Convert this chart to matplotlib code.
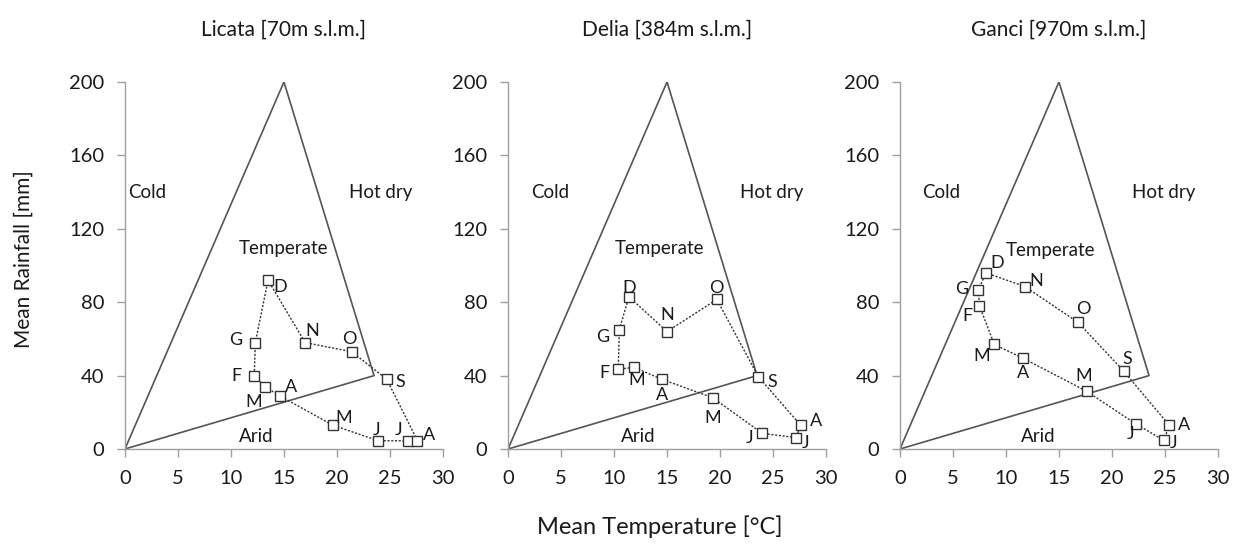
import matplotlib
matplotlib.use("Agg")
import matplotlib.pyplot as plt

plt.rcParams['font.family'] = ['Lato', 'DejaVu Sans']

months = ['G', 'F', 'M', 'A', 'M', 'J', 'J', 'A', 'S', 'O', 'N', 'D']

titles = ['Licata [70m s.l.m.]', 'Delia [384m s.l.m.]', 'Ganci [970m s.l.m.]']

licata_temp = [12.3, 12.2, 13.2, 14.6, 19.6, 23.9, 26.7, 27.6, 24.7, 21.4, 17.0, 13.5]
licata_rain = [58, 40, 34, 29, 13, 4.5, 4.5, 4.5, 38, 53, 58, 92]

delia_temp = [10.5, 10.4, 11.9, 14.5, 19.3, 24.0, 27.2, 27.6, 23.6, 19.7, 15.0, 11.4]
delia_rain = [65, 43.5, 44.5, 38, 28, 8.5, 6.2, 13, 39.5, 81.5, 64, 83]

ganci_temp = [7.4, 7.5, 8.9, 11.6, 17.6, 22.3, 24.9, 25.4, 21.1, 16.8, 11.8, 8.1]
ganci_rain = [86.5, 78, 57, 49.5, 31.5, 13.5, 4.7, 13, 42.5, 69, 88.5, 96]

# climate triangle vertices (temperature, rainfall)
tri_temp = [0, 15, 23.5, 0]
tri_rain = [0, 200, 40, 0]

zone_names = ['Cold', 'Hot dry', 'Temperate', 'Arid']

label_offsets = [
    [(-14, 2), (-13, 0), (-8, -11), (8, 6), (8, 5), (-1, 8), (-7, 8), (8, 4), (10, -2), (-2, 9), (5, 8), (9, -5)],
    [(-12, -5), (-10, -3), (2, -9), (0, -11), (0, -15), (-9, -3), (7, -4), (11, 3), (10, -4), (0, 8), (0, 12), (0, 6)],
    [(-12, 1), (-9, -7), (-9, -8), (0, -11), (-2, 11), (-4, -7), (7, -2), (11, 0), (3, 9), (4, 10), (8, 4), (8, 7)],
]
zone_pos = [
    [(0.3, 140, 'left'), (21.1, 140, 'left'), (15.0, 109, 'center'), (12.4, 7, 'center')],
    [(2.2, 140, 'left'), (21.9, 140, 'left'), (14.3, 109, 'center'), (12.3, 7, 'center')],
    [(2.1, 140, 'left'), (21.9, 140, 'left'), (14.2, 108, 'center'), (13.0, 7, 'center')],
]

temps = [licata_temp, delia_temp, ganci_temp]
rains = [licata_rain, delia_rain, ganci_rain]

txt = '#1a1a1a'
fig = plt.figure(figsize=(12.47, 5.44), dpi=100)
lefts = [0.1002, 0.4074, 0.7217]
for i in range(3):
    ax = fig.add_axes([lefts[i], 0.1746, 0.2550, 0.6747])
    ax.plot(tri_temp, tri_rain, color='#555555', lw=1.2, zorder=1)
    t = temps[i] + [temps[i][0]]
    r = rains[i] + [rains[i][0]]
    ax.plot(t, r, color='#333333', lw=1.0, ls=(0, (1.5, 1.2)), zorder=2)
    ax.plot(temps[i], rains[i], ls='none', marker='s', ms=7, mfc='white',
            mec='#333333', mew=1.0, zorder=3)
    for j, m in enumerate(months):
        dx, dy = label_offsets[i][j]
        ax.annotate(m, (temps[i][j], rains[i][j]), xytext=(dx, dy),
                    textcoords='offset points', ha='center', va='center',
                    fontsize=13, color=txt)
    for name, (zx, zy, ha) in zip(zone_names, zone_pos[i]):
        ax.text(zx, zy, name, ha=ha, va='center', fontsize=13.5, color=txt)
    ax.set_xlim(0, 30)
    ax.set_ylim(0, 200)
    ax.set_xticks(range(0, 31, 5))
    ax.set_yticks(range(0, 201, 40))
    for s in ['top', 'right']:
        ax.spines[s].set_visible(False)
    for s in ['left', 'bottom']:
        ax.spines[s].set_color('#a0a0a0')
        ax.spines[s].set_linewidth(1.0)
    ax.tick_params(axis='both', direction='out', length=6, width=1.0,
                   color='#a0a0a0', labelsize=14.5, labelcolor=txt, pad=9)
    ax.set_title(titles[i], fontsize=15, color=txt, pad=33)

fig.text(24 / 1247, 1 - 259 / 544, 'Mean Rainfall [mm]', rotation=90,
         ha='center', va='center', fontsize=15, color=txt)
fig.text(0.529, 0.032, 'Mean Temperature [°C]', ha='center', va='center',
         fontsize=17, color=txt)

fig.savefig('out.png', dpi=100, facecolor='white')
